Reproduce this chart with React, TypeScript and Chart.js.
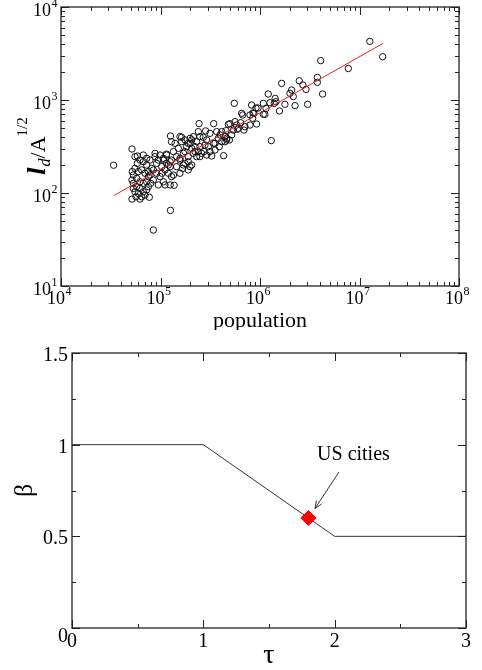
import React, { useEffect, useRef } from "react";
import { Chart, registerables } from "chart.js";

Chart.register(...registerables);

const SERIF = "'Liberation Serif', 'DejaVu Serif', 'Times New Roman', serif";

// ---------------- top panel data ----------------
const populationValues = [
  51700, 51700, 62200, 77200, 84700, 33800, 55400, 58500, 62200, 67200, 72600, 55400, 59900, 64700, 69800, 75500,
  53300, 57600, 62200, 67200, 72600, 53300, 57600, 62200, 67200, 55400, 59900, 64700, 69800, 75500, 53300, 56700,
  72600, 79600, 51700, 52000, 67200, 72600, 58500,
  88100, 98900, 107000, 115000, 91500, 103000, 111000, 120000, 91500, 98900, 107000, 84700, 95100, 111000, 125000,
  137000, 81500, 75500, 78400, 84700, 115000, 125000, 95100, 88100, 126000, 78400, 129000,
  126000, 163000, 140000, 151000, 163000, 170000, 183000, 198000, 214000, 231000, 157000, 176000, 190000, 206000,
  145000, 135000, 190000, 167000, 222000, 249000, 240000, 145000, 129000, 120000, 135000, 157000, 198000, 176000,
  129000, 157000, 157000, 190000, 170000, 103000, 115000, 107000, 125000, 176000,
  244000, 342000, 431000, 269000, 291000, 314000, 342000, 367000, 381000, 412000, 445000, 462000, 303000, 353000,
  390000, 327000, 274000, 249000, 231000, 214000, 240000, 284000, 396000, 455000, 492000, 445000, 259000, 291000,
  314000, 198000, 190000, 206000, 222000, 280000, 353000, 249000, 206000,
  499000, 561000, 582000, 605000, 654000, 670000, 639000, 706000, 690000, 793000, 844000, 871000, 540000, 462000,
  412000, 519000, 552000, 481000, 592000,
  824000, 912000, 955000, 851000, 793000, 1080000, 1150000, 1080000, 1120000, 1260000, 1210000, 1420000, 1450000,
  1390000, 1650000, 1780000, 1570000, 1300000, 2000000, 2080000, 2160000, 2250000, 2480000, 2700000, 2900000,
  3010000, 3770000, 3770000, 4070000, 4260000, 7720000, 12700000, 17100000, 925000,
];
const lengthValues = [
  297, 86, 86, 90, 40, 199, 246, 208, 226, 217, 200, 184, 170, 177, 163, 150,
  156, 144, 132, 127, 132, 127, 117, 112, 103, 103, 99, 91, 95, 117, 112, 91,
  108, 127, 138, 170, 256, 236, 250,
  267, 256, 236, 262, 208, 192, 177, 163, 163, 150, 132, 138, 122, 122, 122,
  121, 184, 170, 156, 177, 208, 192, 226, 246, 65, 226, 150,
  410, 397, 342, 302, 356, 267, 315, 342, 267, 246, 226, 208, 246, 200,
  246, 279, 177, 184, 315, 246, 279, 192, 226, 200, 156, 163, 192, 372,
  356, 404, 236, 217, 200, 163, 256, 226, 217, 279,
  557, 557, 252, 397, 372, 438, 342, 457, 387, 356, 404, 372, 315, 290,
  315, 250, 279, 315, 356, 404, 457, 465, 421, 468, 372, 356, 267, 256,
  279, 387, 342, 302, 279, 328, 342, 404, 372,
  557, 585, 538, 496, 719, 690, 570, 516, 475, 538, 636, 719, 475, 387,
  457, 421, 920, 547, 484,
  883, 820, 820, 725, 690, 920, 813, 701, 701, 935, 1160, 1040, 959,
  920, 1510, 898, 762, 366, 1180, 1280, 1090, 870, 1610, 1450, 1300,
  898, 1750, 1550, 2650, 1160, 2180, 4270, 2920, 552,
];
const fitPopulation = [33800, 17300000];
const fitLength = [93.6, 4070];
const xDecadeExponents = [4, 5, 6, 7, 8];
const yDecadeExponents = [1, 2, 3, 4];
const minorMultipliers = [2, 3, 4, 5, 6, 7, 8, 9];
const topXTitle = "population";

// ---------------- bottom panel data ----------------
const tauValues = [0, 1, 2, 3];
const betaValues = [1, 1, 0.5, 0.5];
const usCitiesTau = [1.8];
const usCitiesBeta = [0.6];
const tauTicks = [0, 1, 2, 3];
const tauMinorTicks = [0.5, 1.5, 2.5];
const tauTickLabels = ["0", "1", "2", "3"];
const betaTicks = [0, 0.5, 1, 1.5];
const betaMinorTicks = [0.25, 0.75, 1.25];
const betaTickLabels = ["0", "0.5", "1", "1.5"];
const annotationLabel = "US cities";
const annotationTextAt = [1.866, 0.916];
const arrowFrom = [2.033, 0.851];
const arrowTo = [1.85, 0.652];

function seg(ctx: CanvasRenderingContext2D, x1: number, y1: number, x2: number, y2: number) {
  ctx.beginPath();
  ctx.moveTo(x1, y1);
  ctx.lineTo(x2, y2);
  ctx.stroke();
}

function drawPow(ctx: CanvasRenderingContext2D, x: number, baseline: number, exp: string, align: string) {
  ctx.textAlign = "left";
  ctx.textBaseline = "alphabetic";
  ctx.font = `18px ${SERIF}`;
  const wb = ctx.measureText("10").width;
  ctx.font = `12px ${SERIF}`;
  const we = ctx.measureText(exp).width;
  const total = wb + we;
  const x0 = align === "center" ? x - total / 2 - 2 : x - total;
  ctx.font = `18px ${SERIF}`;
  ctx.fillText("10", x0, baseline);
  ctx.font = `12px ${SERIF}`;
  ctx.fillText(exp, x0 + wb + 0.5, baseline - 9);
}

const topDecor = {
  id: "topDecor",
  afterDatasetsDraw(chart: any) {
    const { ctx, chartArea: a } = chart;
    const xs = chart.scales.x;
    const ys = chart.scales.y;
    ctx.save();
    ctx.strokeStyle = "#222";
    ctx.lineWidth = 1;
    for (let i = 0; i < xDecadeExponents.length; i++) {
      const base = Math.pow(10, xDecadeExponents[i]);
      const px = Math.round(xs.getPixelForValue(base)) + 0.5;
      seg(ctx, px, a.bottom, px, a.bottom - 8);
      seg(ctx, px, a.top, px, a.top + 8);
      if (i < xDecadeExponents.length - 1) {
        for (const m of minorMultipliers) {
          const qx = Math.round(xs.getPixelForValue(m * base)) + 0.5;
          seg(ctx, qx, a.bottom, qx, a.bottom - 4);
          seg(ctx, qx, a.top, qx, a.top + 4);
        }
      }
    }
    for (let i = 0; i < yDecadeExponents.length; i++) {
      const base = Math.pow(10, yDecadeExponents[i]);
      const py = Math.round(ys.getPixelForValue(base)) + 0.5;
      seg(ctx, a.left, py, a.left + 8, py);
      seg(ctx, a.right, py, a.right - 8, py);
      if (i < yDecadeExponents.length - 1) {
        for (const m of minorMultipliers) {
          const qy = Math.round(ys.getPixelForValue(m * base)) + 0.5;
          seg(ctx, a.left, qy, a.left + 4, qy);
          seg(ctx, a.right, qy, a.right - 4, qy);
        }
      }
    }
    ctx.lineWidth = 1.3;
    ctx.strokeRect(a.left, a.top, a.right - a.left, a.bottom - a.top);

    ctx.fillStyle = "#000";
    for (const e of xDecadeExponents) {
      drawPow(ctx, xs.getPixelForValue(Math.pow(10, e)), a.bottom + 18, String(e), "center");
    }
    for (const e of yDecadeExponents) {
      drawPow(ctx, a.left - 4, ys.getPixelForValue(Math.pow(10, e)) + 9, String(e), "right");
    }
    ctx.font = `22px ${SERIF}`;
    ctx.textAlign = "center";
    ctx.textBaseline = "alphabetic";
    ctx.fillText(topXTitle, (a.left + a.right) / 2, a.bottom + 41);

    // rotated y title: l_d / A^{1/2}
    const parts = [
      { t: "l", f: `italic bold 26px ${SERIF}`, dy: 0 },
      { t: "d", f: `italic 16px ${SERIF}`, dy: 5 },
      { t: "/A", f: `22px ${SERIF}`, dy: 0 },
      { t: "1/2", f: `15px ${SERIF}`, dy: -18 },
    ];
    let total = 0;
    const widths: number[] = [];
    for (const p of parts) {
      ctx.font = p.f;
      const w = ctx.measureText(p.t).width;
      widths.push(w);
      total += w;
    }
    const cy = (a.top + a.bottom) / 2;
    ctx.translate(a.left - 16, cy);
    ctx.rotate(-Math.PI / 2);
    ctx.textAlign = "left";
    let x = -total / 2;
    parts.forEach((p, i) => {
      ctx.font = p.f;
      ctx.fillText(p.t, x, p.dy);
      x += widths[i] + (i === 0 ? 1 : 0);
    });
    ctx.restore();
  },
};

const bottomDecor = {
  id: "bottomDecor",
  afterDatasetsDraw(chart: any) {
    const { ctx, chartArea: a } = chart;
    const xs = chart.scales.x;
    const ys = chart.scales.y;
    ctx.save();
    ctx.strokeStyle = "#222";
    ctx.lineWidth = 1;
    for (const v of tauTicks) {
      const px = Math.round(xs.getPixelForValue(v)) + 0.5;
      seg(ctx, px, a.bottom, px, a.bottom - 8);
      seg(ctx, px, a.top, px, a.top + 8);
    }
    for (const v of tauMinorTicks) {
      const px = Math.round(xs.getPixelForValue(v)) + 0.5;
      seg(ctx, px, a.bottom, px, a.bottom - 4);
      seg(ctx, px, a.top, px, a.top + 4);
    }
    for (const v of betaTicks) {
      const py = Math.round(ys.getPixelForValue(v)) + 0.5;
      seg(ctx, a.left, py, a.left + 8, py);
      seg(ctx, a.right, py, a.right - 8, py);
    }
    for (const v of betaMinorTicks) {
      const py = Math.round(ys.getPixelForValue(v)) + 0.5;
      seg(ctx, a.left, py, a.left + 4, py);
      seg(ctx, a.right, py, a.right - 4, py);
    }
    ctx.lineWidth = 1.3;
    ctx.strokeRect(a.left, a.top, a.right - a.left, a.bottom - a.top);

    ctx.fillStyle = "#000";
    ctx.font = `20px ${SERIF}`;
    ctx.textBaseline = "alphabetic";
    ctx.textAlign = "center";
    tauTicks.forEach((v, i) => {
      ctx.fillText(tauTickLabels[i], xs.getPixelForValue(v), a.bottom + 19);
    });
    ctx.textAlign = "right";
    betaTicks.forEach((v, i) => {
      const extra = v === 0 ? 6 : 0;
      ctx.fillText(betaTickLabels[i], a.left - 4, ys.getPixelForValue(v) + 8 + extra);
    });

    ctx.textAlign = "center";
    ctx.font = `28px ${SERIF}`;
    ctx.fillText("τ", (a.left + a.right) / 2, a.bottom + 35);

    // annotation
    ctx.textAlign = "left";
    ctx.font = `20px ${SERIF}`;
    ctx.fillText(annotationLabel, xs.getPixelForValue(annotationTextAt[0]), ys.getPixelForValue(annotationTextAt[1]));
    const x1 = xs.getPixelForValue(arrowFrom[0]);
    const y1 = ys.getPixelForValue(arrowFrom[1]);
    const x2 = xs.getPixelForValue(arrowTo[0]);
    const y2 = ys.getPixelForValue(arrowTo[1]);
    ctx.strokeStyle = "#333";
    ctx.lineWidth = 1;
    seg(ctx, x1, y1, x2, y2);
    const ang = Math.atan2(y2 - y1, x2 - x1);
    const hl = 8;
    for (const s of [-0.4, 0.4]) {
      seg(ctx, x2, y2, x2 - hl * Math.cos(ang + s), y2 - hl * Math.sin(ang + s));
    }

    // rotated beta title
    ctx.fillStyle = "#000";
    ctx.font = `26px ${SERIF}`;
    ctx.translate(a.left - 40, (a.top + a.bottom) / 2);
    ctx.rotate(-Math.PI / 2);
    ctx.textAlign = "center";
    ctx.fillText("β", 0, 0);
    ctx.restore();
  },
};

export default function App() {
  const topRef = useRef<HTMLCanvasElement>(null);
  const botRef = useRef<HTMLCanvasElement>(null);

  useEffect(() => {
    const topChart = new Chart(topRef.current as HTMLCanvasElement, {
      type: "scatter",
      data: {
        datasets: [
          {
            type: "line",
            data: fitPopulation.map((x, i) => ({ x, y: fitLength[i] })),
            borderColor: "#e3231f",
            borderWidth: 1,
            pointRadius: 0,
            showLine: true,
            fill: false,
          } as any,
          {
            data: populationValues.map((x, i) => ({ x, y: lengthValues[i] })),
            pointStyle: "circle",
            pointRadius: 3.2,
            borderColor: "#111",
            borderWidth: 1,
            backgroundColor: "rgba(0,0,0,0)",
          },
        ],
      },
      options: {
        responsive: false,
        animation: false,
        events: [],
        layout: { padding: { left: 0, top: 7, right: 23, bottom: 0 } },
        plugins: { legend: { display: false }, tooltip: { enabled: false } },
        scales: {
          x: {
            type: "logarithmic",
            min: 1e4,
            max: 1e8,
            ticks: { display: false },
            grid: { display: false },
            border: { display: false },
            afterFit: (s: any) => {
              s.height = 44;
            },
          },
          y: {
            type: "logarithmic",
            min: 10,
            max: 1e4,
            ticks: { display: false },
            grid: { display: false },
            border: { display: false },
            afterFit: (s: any) => {
              s.width = 61;
            },
          },
        },
      } as any,
      plugins: [topDecor],
    });

    const botChart = new Chart(botRef.current as HTMLCanvasElement, {
      type: "scatter",
      data: {
        datasets: [
          {
            data: usCitiesTau.map((x, i) => ({ x, y: usCitiesBeta[i] })),
            pointStyle: "rectRot",
            pointRadius: 7.5,
            backgroundColor: "#ff0000",
            borderColor: "#ff0000",
            borderWidth: 1,
          },
          {
            type: "line",
            data: tauValues.map((x, i) => ({ x, y: betaValues[i] })),
            borderColor: "#333",
            borderWidth: 1,
            pointRadius: 0,
            showLine: true,
            fill: false,
          } as any,
        ],
      },
      options: {
        responsive: false,
        animation: false,
        events: [],
        layout: { padding: { left: 0, top: 23, right: 16, bottom: 0 } },
        plugins: { legend: { display: false }, tooltip: { enabled: false } },
        scales: {
          x: {
            type: "linear",
            min: 0,
            max: 3,
            ticks: { display: false },
            grid: { display: false },
            border: { display: false },
            afterFit: (s: any) => {
              s.height = 42;
            },
          },
          y: {
            type: "linear",
            min: 0,
            max: 1.5,
            ticks: { display: false },
            grid: { display: false },
            border: { display: false },
            afterFit: (s: any) => {
              s.width = 72;
            },
          },
        },
      } as any,
      plugins: [bottomDecor],
    });

    return () => {
      topChart.destroy();
      botChart.destroy();
    };
  }, []);

  return (
    <div style={{ position: "absolute", left: 0, top: 0, width: 482, height: 670, background: "#fff" }}>
      <canvas
        ref={topRef}
        width={482}
        height={330}
        style={{ position: "absolute", left: 0, top: 0, width: 482, height: 330 }}
      />
      <canvas
        ref={botRef}
        width={482}
        height={340}
        style={{ position: "absolute", left: 0, top: 330, width: 482, height: 340 }}
      />
    </div>
  );
}
